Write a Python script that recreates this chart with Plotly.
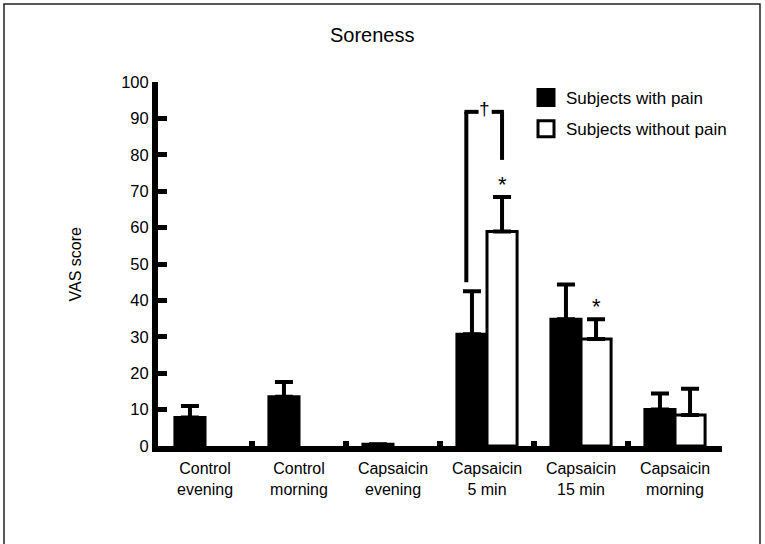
import plotly.graph_objects as go

categories = ["Control<br>evening", "Control<br>morning", "Capsaicin<br>evening",
              "Capsaicin<br>5 min", "Capsaicin<br>15 min", "Capsaicin<br>morning"]
pain_mean = [7.8, 13.5, 0.5, 30.7, 34.8, 10.0]
pain_err = [3.2, 4.1, 0.0, 11.8, 9.6, 4.4]
nopain_mean = [None, None, None, 58.9, 29.4, 8.5]
nopain_err = [None, None, None, 9.5, 5.4, 7.2]
yticks = [0, 10, 20, 30, 40, 50, 60, 70, 80, 90, 100]

FONT = "Liberation Sans, Arial, Helvetica, sans-serif"
W, H = 765, 544
ML, MR, MT, MB = 158, 43, 82, 98
PW, PH = W - ML - MR, H - MT - MB

fig = go.Figure()
fig.add_trace(go.Bar(
    x=categories, y=pain_mean, name="Subjects with pain", showlegend=False,
    marker=dict(color="black", line=dict(color="black", width=3)),
    error_y=dict(type="data", array=pain_err, arrayminus=[0]*6, symmetric=False,
                 color="black", thickness=4, width=9),
))
fig.add_trace(go.Bar(
    x=categories, y=nopain_mean, name="Subjects without pain", showlegend=False,
    marker=dict(color="white", line=dict(color="black", width=3)),
    error_y=dict(type="data", array=nopain_err, arrayminus=[0]*6, symmetric=False,
                 color="black", thickness=4, width=9),
))
# legend entries
fig.add_trace(go.Scatter(x=[None], y=[None], mode="markers", name="Subjects with pain",
                         legendgroup="a",
                         marker=dict(symbol="square", size=16, color="black",
                                     line=dict(color="black", width=3))))
fig.add_trace(go.Scatter(x=[None], y=[None], mode="markers", name="Subjects without pain",
                         legendgroup="b",
                         marker=dict(symbol="square", size=16, color="white",
                                     line=dict(color="black", width=3))))

OFF = 0.16
i5 = 3
i15 = 4
left_x = i5 - 0.22
right_x = i5 + OFF
top_y = 91.8
left_bottom = pain_mean[i5] + pain_err[i5] + 2.5
right_bottom = 78.6
line = dict(color="black", width=4)
shapes = [
    dict(type="line", xref="x", yref="y", x0=left_x, x1=left_x, y0=left_bottom, y1=top_y, line=line),
    dict(type="line", xref="x", yref="y", x0=left_x - 0.02, x1=i5 - 0.09, y0=top_y, y1=top_y, line=line),
    dict(type="line", xref="x", yref="y", x0=i5 + 0.05, x1=right_x + 0.02, y0=top_y, y1=top_y, line=line),
    dict(type="line", xref="x", yref="y", x0=right_x, x1=right_x, y0=top_y, y1=right_bottom, line=line),
    # figure frame
    dict(type="rect", xref="paper", yref="paper",
         x0=(4 - ML) / PW, x1=(760 - ML) / PW,
         y0=(H - MB - 560) / PH, y1=(H - MB - 4) / PH,
         line=dict(color="#222", width=1.5)),
]

annotations = [
    dict(x=i5 - 0.03, y=top_y + 0.8, xref="x", yref="y", text="†", showarrow=False,
         font=dict(size=19, color="black", family=FONT)),
    dict(x=i5 + OFF, y=nopain_mean[i5] + nopain_err[i5] + 3.5, xref="x", yref="y", text="*",
         showarrow=False, font=dict(size=22, color="black", family=FONT)),
    dict(x=i15 + OFF, y=nopain_mean[i15] + nopain_err[i15] + 3.5, xref="x", yref="y", text="*",
         showarrow=False, font=dict(size=22, color="black", family=FONT)),
    dict(x=(74.5 - ML) / PW, y=0.5, xref="paper", yref="paper", text="VAS score",
         textangle=-90, showarrow=False, xanchor="center", yanchor="middle",
         font=dict(size=16, color="black", family=FONT)),
    dict(x=(372 - ML) / PW, y=(H - MB - 35) / PH, xref="paper", yref="paper", text="Soreness",
         showarrow=False, xanchor="center", yanchor="middle",
         font=dict(size=20, color="black", family=FONT)),
]

fig.update_layout(
    width=W, height=H,
    margin=dict(l=ML, r=MR, t=MT, b=MB),
    paper_bgcolor="white", plot_bgcolor="white",
    barmode="group", bargap=0.36, bargroupgap=0,
    font=dict(family=FONT, size=16, color="black"),
    shapes=shapes, annotations=annotations,
    legend=dict(x=(526 - ML) / PW, y=1 + (MT - 80) / PH, xanchor="left", yanchor="top",
                font=dict(size=17, family=FONT), tracegroupgap=6,
                bgcolor="rgba(0,0,0,0)"),
    xaxis=dict(type="category", showline=True, linewidth=6, linecolor="black",
               ticks="inside", tickson="boundaries", ticklen=5, tickwidth=6, tickcolor="black",
               showgrid=False, zeroline=False, tickfont=dict(size=16, family=FONT),
               ticklabelstandoff=3, range=[-0.5, 5.5]),
    yaxis=dict(range=[0, 100], tickvals=yticks, showline=True, linewidth=6, linecolor="black",
               ticks="inside", ticklen=9, tickwidth=5, tickcolor="black",
               showgrid=False, zeroline=False, tickfont=dict(size=16.5, family=FONT)),
)

fig.write_html("out.html", config={"displayModeBar": False},
               post_script="document.body.style.margin='0';document.body.style.padding='0';")
